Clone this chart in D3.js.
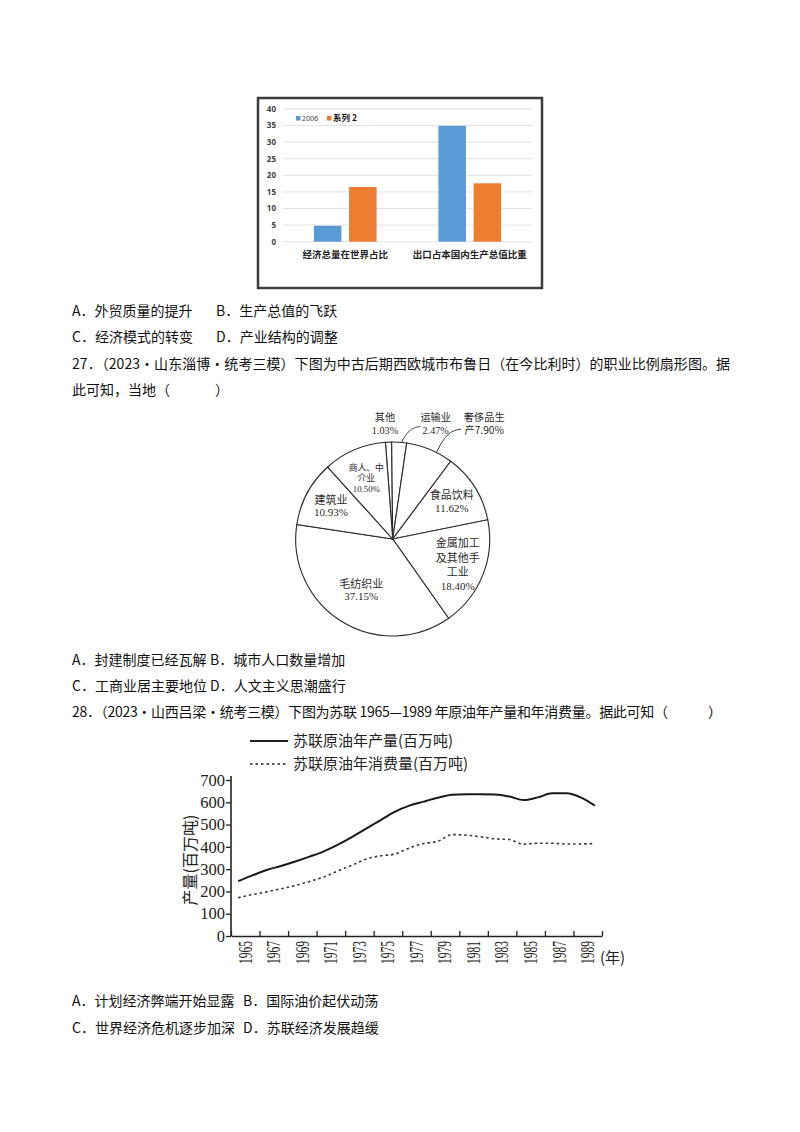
<!DOCTYPE html>
<html>
<head>
<meta charset="utf-8">
<script src="https://cdn.jsdelivr.net/npm/d3@7"></script>
<style>
body { margin: 0; background: #fff; }
svg { display: block; }
</style>
</head>
<body>
<svg id="page" width="800" height="1132"></svg>
<script>
// bar chart data
const barCategories = ["经济总量在世界占比", "出口占本国内生产总值比重"]
const barSeries = ["2006", "系列 2"]
const bar2006 = [4.8, 34.9]
const barSeries2 = [16.5, 17.6]
const barTicks = [0, 5, 10, 15, 20, 25, 30, 35, 40]

// pie chart data (clockwise from the top)
const pieNames = ["其他", "运输业", "奢侈品生产", "食品饮料", "金属加工及其他手工业", "毛纺织业", "建筑业", "商人、中介业"]
const pieValues = [1.03, 2.47, 7.90, 11.62, 18.40, 37.15, 10.93, 10.50]
// how each name is broken into lines; last item is put in front of the percent
const pieNameLines = [["其他", ""], ["运输业", ""], ["奢侈品生", "产"], ["食品饮料", ""],
  ["金属加工", "及其他手", "工业", ""], ["毛纺织业", ""], ["建筑业", ""], ["商人、中", "介业", ""]]

// oil chart data
const oilYears = [1965, 1966, 1967, 1968, 1969, 1970, 1971, 1972, 1973, 1974, 1975, 1976, 1977,
  1978, 1979, 1980, 1981, 1982, 1983, 1984, 1985, 1986, 1987, 1988, 1989, 1990]
const oilProduction = [246, 272, 296, 314, 334, 356, 380, 410, 445, 483, 520, 558, 585,
  603, 620, 634, 636, 636, 635, 626, 610, 622, 640, 640, 622, 585]
const oilConsumption = [172, 186, 198, 212, 226, 245, 265, 292, 318, 346, 360, 368, 395,
  415, 425, 455, 452, 445, 436, 433, 412, 416, 416, 413, 413, 415]
const oilTickLabels = ["1965", "1967", "1969", "1971", "1973", "1975", "1977", "1979", "1981", "1983", "1985", "1987", "1989"]
const oilYTicks = [0, 100, 200, 300, 400, 500, 600, 700]
const oilLegend = ["苏联原油年产量(百万吨)", "苏联原油年消费量(百万吨)"]

// page text: x, baseline, text, optional fitted width
const bodyFont = "'Noto Sans CJK SC', 'Noto Sans', sans-serif"
const serifFont = "'Liberation Serif', 'DejaVu Serif', serif"
const textLines = [
  [72, 316, "A．外贸质量的提升"], [216, 316, "B．生产总值的飞跃"],
  [72, 342, "C．经济模式的转变"], [216, 342, "D．产业结构的调整"],
  [72, 369, "27．（2023·山东淄博·统考三模）下图为中古后期西欧城市布鲁日（在今比利时）的职业比例扇形图。据", 658],
  [72, 395, "此可知，当地（"], [215, 395, "）"],
  [72, 665, "A．封建制度已经瓦解"], [210, 665, "B．城市人口数量增加"],
  [72, 691, "C．工商业居主要地位"], [210, 691, "D．人文主义思潮盛行"],
  [72, 717, "28．（2023·山西吕梁·统考三模）下图为苏联 1965—1989 年原油年产量和年消费量。据此可知（", 596], [708, 717, "）"],
  [72, 1006, "A．计划经济弊端开始显露"], [243, 1006, "B．国际油价起伏动荡"],
  [72, 1033, "C．世界经济危机逐步加深"], [243, 1033, "D．苏联经济发展趋缓"]
]

const svg = d3.select("#page")
svg.append("rect").attr("width", 800).attr("height", 1132).attr("fill", "#fff")

svg.append("g").selectAll("text")
  .data(textLines)
  .enter()
  .append("text")
    .attr("x", d => d[0])
    .attr("y", d => d[1])
    .attr("font-family", bodyFont)
    .attr("font-size", 14)
    .attr("fill", "#111")
    .attr("textLength", d => d[3] || null)
    .attr("lengthAdjust", d => d[3] ? "spacing" : null)
    .text(d => d[2])

// ---------- bar chart ----------
const bar = svg.append("g")
bar.append("rect")
  .attr("x", 258).attr("y", 98).attr("width", 284).attr("height", 190)
  .attr("fill", "#fff").attr("stroke", "#3c3c3c").attr("stroke-width", 2.5)

const bx0 = d3.scaleBand().domain(barCategories).range([283, 532]).padding(0)
const bx1 = d3.scaleBand().domain(barSeries).range([0, bx0.bandwidth()])
  .paddingInner(0.217).paddingOuter(0.88)
const by = d3.scaleLinear().domain([0, 40]).range([241.7, 109])
const barColors = d3.scaleOrdinal().domain(barSeries).range(["#5b9bd5", "#ed7d31"])

bar.selectAll(".grid")
  .data(barTicks)
  .enter()
  .append("line")
    .attr("x1", 283).attr("x2", 532)
    .attr("y1", d => by(d)).attr("y2", d => by(d))
    .attr("stroke", "#d9d9d9").attr("stroke-width", 0.8)

bar.selectAll(".ylab")
  .data(barTicks)
  .enter()
  .append("text")
    .attr("x", 276)
    .attr("y", d => by(d))
    .attr("dy", "0.35em")
    .attr("text-anchor", "end")
    .attr("font-family", "'Noto Sans', sans-serif")
    .attr("font-weight", "bold")
    .attr("font-size", 8)
    .attr("fill", "#404040")
    .text(d => d)

const barRows = barCategories.map((c, i) => [
  {cat: c, s: barSeries[0], v: bar2006[i]},
  {cat: c, s: barSeries[1], v: barSeries2[i]}
]).flat()

bar.selectAll(".bar")
  .data(barRows)
  .enter()
  .append("rect")
    .attr("x", d => bx0(d.cat) + bx1(d.s))
    .attr("width", bx1.bandwidth())
    .attr("y", d => by(d.v))
    .attr("height", d => by(0) - by(d.v))
    .attr("fill", d => barColors(d.s))

bar.selectAll(".xlab")
  .data(barCategories)
  .enter()
  .append("text")
    .attr("x", d => bx0(d) + bx0.bandwidth() / 2)
    .attr("y", 258)
    .attr("text-anchor", "middle")
    .attr("font-family", bodyFont)
    .attr("font-weight", "bold")
    .attr("font-size", 9.5)
    .attr("fill", "#222")
    .text(d => d)

// legend
const legendX = [296, 327]
barSeries.forEach((s, i) => {
  bar.append("rect")
    .attr("x", legendX[i]).attr("y", 116).attr("width", 4.5).attr("height", 4.5)
    .attr("fill", barColors(s))
  bar.append("text")
    .attr("x", legendX[i] + 6).attr("y", 121)
    .attr("font-family", i ? bodyFont : "'Noto Sans', sans-serif")
    .attr("font-weight", i ? "bold" : "normal")
    .attr("font-size", i ? 8.5 : 7)
    .attr("fill", i ? "#111" : "#404040")
    .text(s)
})

// ---------- pie chart ----------
const pieCx = 392.7, pieCy = 539, pieR = 97
const start = -4.3 * Math.PI / 180
const pie = d3.pie().sort(null).startAngle(start).endAngle(start + 2 * Math.PI)
const arcs = pie(pieValues)
const arc = d3.arc().innerRadius(0).outerRadius(pieR)
const pieG = svg.append("g").attr("transform", `translate(${pieCx},${pieCy})`)

pieG.selectAll(".slice")
  .data(arcs)
  .enter()
  .append("path")
    .attr("d", arc)
    .attr("fill", "#fff")
    .attr("stroke", "#2a2a2a")
    .attr("stroke-width", 1.1)

const pctFmt = d => d3.format(".2f")(d) + "%"
const pieLines = pieNameLines.map((lines, i) => {
  const out = lines.slice(0, -1)
  out.push(lines[lines.length - 1] + pctFmt(pieValues[i]))
  return out
})

// label anchors: inside slices use a label arc, the three thin ones sit above
const outside = {0: [-7.7, -118], 1: [43, -118], 2: [91.5, -118]}
const labelR = i => (i === 5 ? 60 : i === 7 ? 67 : 70)
const lineGap = i => (i === 7 ? 10.2 : i === 4 ? 14.3 : i < 3 ? 12.6 : 12.8)
const labelSize = i => (i === 7 ? 8.8 : i < 3 ? 10.2 : 11)

arcs.forEach((a, i) => {
  let cx, cy
  if (outside[i]) {
    [cx, cy] = outside[i]
  } else {
    const mid = (a.startAngle + a.endAngle) / 2
    const p = d3.pointRadial(mid, labelR(i))
    cx = p[0]
    cy = p[1] - (pieLines[i].length - 1) * lineGap(i) / 2 + 4
  }
  const t = pieG.append("text")
    .attr("text-anchor", "middle")
    .attr("fill", "#2a2a2a")
    .attr("font-size", labelSize(i))
  pieLines[i].forEach((ln, j) => {
    t.append("tspan")
      .attr("x", cx)
      .attr("y", cy + j * lineGap(i))
      .attr("font-family", /[\u4e00-\u9fff]/.test(ln) ? bodyFont : serifFont)
      .text(ln)
  })
})

// leader lines for the two labels sitting outside the circle
const leaders = [[1, 27.5, -112.5], [2, 68.5, -110]]
leaders.forEach(([i, lx, ly]) => {
  const a = arcs[i]
  const ang = a.startAngle + 0.65 * (a.endAngle - a.startAngle)
  const p = d3.pointRadial(ang, pieR)
  pieG.append("path")
    .attr("d", `M${lx},${ly}L${lx - 5},${ly + 1}Q${(lx + p[0]) / 2 - 3},${ly + 3} ${p[0]},${p[1]}`)
    .attr("fill", "none")
    .attr("stroke", "#333")
    .attr("stroke-width", 0.9)
})

// ---------- oil chart ----------
const ox = d3.scaleLinear().domain([1964.5, 1990.5]).range([231, 602])
const oy = d3.scaleLinear().domain([0, 700]).range([936, 780])
const oil = svg.append("g")

const yAxis = oil.append("g")
  .attr("transform", "translate(231,0)")
  .call(d3.axisLeft(oy).tickValues(oilYTicks).tickSize(5).tickSizeOuter(0))
yAxis.select(".domain").attr("d", "M0,936V776").attr("stroke", "#222").attr("stroke-width", 1.6)
yAxis.selectAll(".tick line").attr("stroke", "#222").attr("stroke-width", 1.3)
yAxis.selectAll(".tick text")
  .attr("x", -6)
  .attr("font-family", serifFont)
  .attr("font-size", 16.5)
  .attr("fill", "#222")

const xTicks = oilTickLabels.map(d => +d - 0.5).concat([1990.5])
const xAxis = oil.append("g")
  .attr("transform", "translate(0,936)")
  .call(d3.axisBottom(ox).tickValues(xTicks).tickSize(-5).tickSizeOuter(0).tickFormat(""))
xAxis.select(".domain").attr("stroke", "#222").attr("stroke-width", 1.6)
xAxis.selectAll(".tick line").attr("stroke", "#222").attr("stroke-width", 1.3)

oil.selectAll(".xlab")
  .data(oilTickLabels)
  .enter()
  .append("text")
    .attr("transform", d => `translate(${ox(+d + 0.5)},941) rotate(-90)`)
    .attr("text-anchor", "end")
    .attr("dy", "0.35em")
    .attr("font-family", serifFont)
    .attr("font-size", 18)
    .attr("textLength", 23)
    .attr("lengthAdjust", "spacingAndGlyphs")
    .attr("fill", "#222")
    .text(d => d)

oil.append("text")
  .attr("x", 600).attr("y", 963)
  .attr("font-family", bodyFont)
  .attr("font-size", 15)
  .attr("fill", "#222")
  .text("(年)")

oil.append("text")
  .attr("transform", "translate(196,860) rotate(-90)")
  .attr("text-anchor", "middle")
  .attr("font-family", bodyFont)
  .attr("font-size", 16)
  .attr("fill", "#222")
  .text("产量(百万吨)")

const oilLine = d3.line()
  .x((d, i) => ox(oilYears[i]))
  .y(d => oy(d))
  .curve(d3.curveMonotoneX)

oil.append("path")
  .attr("d", oilLine(oilProduction))
  .attr("fill", "none")
  .attr("stroke", "#1a1a1a")
  .attr("stroke-width", 2)

oil.append("path")
  .attr("d", oilLine(oilConsumption))
  .attr("fill", "none")
  .attr("stroke", "#333")
  .attr("stroke-width", 1.6)
  .attr("stroke-dasharray", "2.5,3")

// legend
oilLegend.forEach((s, i) => {
  oil.append("line")
    .attr("x1", 250).attr("x2", 288)
    .attr("y1", 741 + i * 23).attr("y2", 741 + i * 23)
    .attr("stroke", "#222")
    .attr("stroke-width", i ? 1.4 : 2)
    .attr("stroke-dasharray", i ? "2.5,3" : null)
  oil.append("text")
    .attr("x", 293).attr("y", 746 + i * 23)
    .attr("font-family", bodyFont)
    .attr("font-size", 15)
    .attr("fill", "#222")
    .text(s)
})
</script>
</body>
</html>
